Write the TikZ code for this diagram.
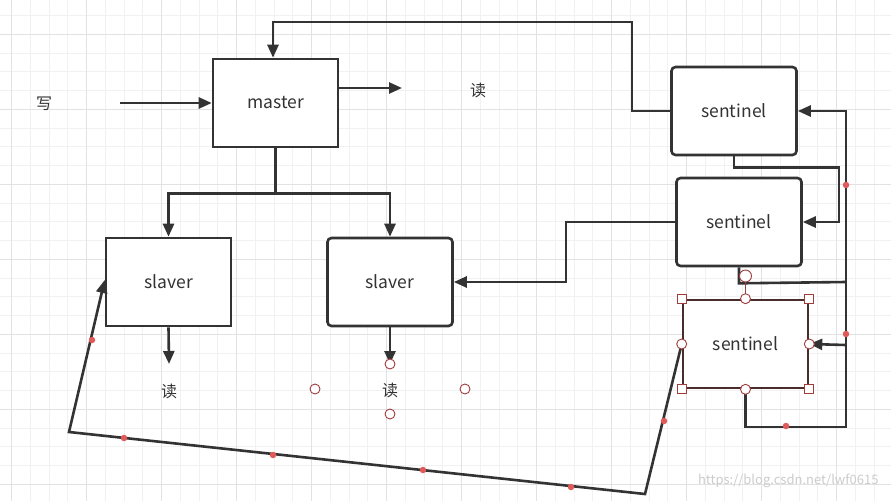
\documentclass[tikz,border=0pt]{standalone}
\usepackage{fontspec}
\setmainfont{Noto Sans CJK SC}
\usetikzlibrary{arrows.meta}
\definecolor{ink}{HTML}{333333}
\definecolor{gridminor}{HTML}{F1F1F1}
\definecolor{gridmajor}{HTML}{E2E2E2}
\definecolor{reddot}{HTML}{E05A5A}
\definecolor{handle}{HTML}{A03C3C}
\definecolor{selbox}{HTML}{4A2C2C}
\begin{document}
\begin{tikzpicture}[x=1pt,y=-1pt,
  box/.style={draw=ink,line width=2.6pt,fill=white,minimum width=125pt,minimum height=88pt,inner sep=0pt,text=ink,font=\fontsize{17.5}{17.5}\selectfont},
  rbox/.style={box,rounded corners=4pt},
  lbl/.style={text=ink,font=\fontsize{16}{16}\selectfont},
  conn/.style={draw=ink,line width=2.6pt},
  arr/.style={conn,-{Triangle[length=13pt,width=11pt]}},
  dot/.style={fill=reddot,draw=none,circle,minimum size=6.5pt,inner sep=0pt},
  hcirc/.style={draw=handle,fill=white,circle,minimum size=10pt,inner sep=0pt,line width=0.9pt},
  hsq/.style={draw=handle,fill=white,minimum size=9pt,inner sep=0pt,line width=0.9pt}]
\useasboundingbox (0,0) rectangle (891,501);
\fill[white] (0,0) rectangle (891,501);
% grid
\foreach \k in {0,...,46} \draw[gridminor,line width=1pt] ({11.7+18.75*\k},0) -- ({11.7+18.75*\k},501);
\foreach \k in {-1,...,24} \draw[gridminor,line width=1pt] (0,{34.3+18.75*\k}) -- (891,{34.3+18.75*\k});
\foreach \k in {0,...,11} \draw[gridmajor,line width=1pt] ({11.7+75*\k},0) -- ({11.7+75*\k},501);
\foreach \k in {0,...,6} \draw[gridmajor,line width=1pt] (0,{34.3+75*\k}) -- (891,{34.3+75*\k});

% nodes
\node[box] (master) at (275.5,103) {master};
\node[box] (slA) at (168.5,282) {slaver};
\node[rbox] (slB) at (390,282) {slaver};
\node[rbox] (sen1) at (734,111) {sentinel};
\node[rbox] (sen2) at (739,222) {sentinel};
\node[box,draw=selbox] (sen3) at (745.5,344) {sentinel};

\node[lbl] (w) at (44,104) {写};
\node[lbl] (r0) at (478,90) {读};
\node[lbl] (r1) at (169,391) {读};
\node[lbl] (r2) at (390,390) {读};

\coordinate (wstart) at (120,103);
\coordinate (mr) at (402,88);
\coordinate (aend) at (169,364);
\coordinate (bend) at (390,364);

% connectors
\draw[arr] (wstart) -- (master.west);
\draw[arr] (master.east |- mr) -- (mr);
\draw[arr] (sen1.west) -| (632,22) -| ([xshift=-2.5pt]master.north);
\draw[arr] (master.south) -- ++(0,45) -| (slA.north);
\draw[arr] (master.south) ++(0,45) -| (slB.north);
\draw[arr] (slA.south) -- (aend);
\draw[arr] (slB.south) -- (bend);
\draw[arr] (sen2.west) -- (566,222) |- (slB.east);
\draw[arr] (sen1.south) -- ++(0,11) -| (839,222) -- (sen2.east);
\draw[arr] (sen3.south) -- (745.5,427) -| (846,111) -- (sen1.east);
\draw[arr] (846,345) -- (sen3.east);
\draw[conn] (sen2.south) -- ++(0,16) -- (846,282);
\draw[arr] (sen3.west) -- (645,494) -- (69,432) -- ([yshift=2pt]slA.west);

% selection handles
\draw[handle,line width=0.9pt] (745.5,276) -- (sen3.north);
\node[hcirc,minimum size=12pt] (rot) at (745.5,276) {};
\foreach \a in {north west,north east,south west,south east} \node[hsq] at (sen3.\a) {};
\foreach \a in {north,south,east,west} \node[hcirc] at (sen3.\a) {};
\node[hcirc] (c1) at (390,364) {};
\node[hcirc] (c2) at (315,389) {};
\node[hcirc] (c3) at (465,389) {};
\node[hcirc] (c4) at (390,414) {};

% red dots
\foreach \p in {(92,340),(124,438),(273,455),(423,470),(571,487),(664,421),(846,185),(846,334),(786,426)} \node[dot] at \p {};

% watermark
\node[text=black!20,font=\fontsize{13}{13}\selectfont,anchor=east] (wm) at (882,481) {https://blog.csdn.net/lwf0615};
\end{tikzpicture}
\end{document}
